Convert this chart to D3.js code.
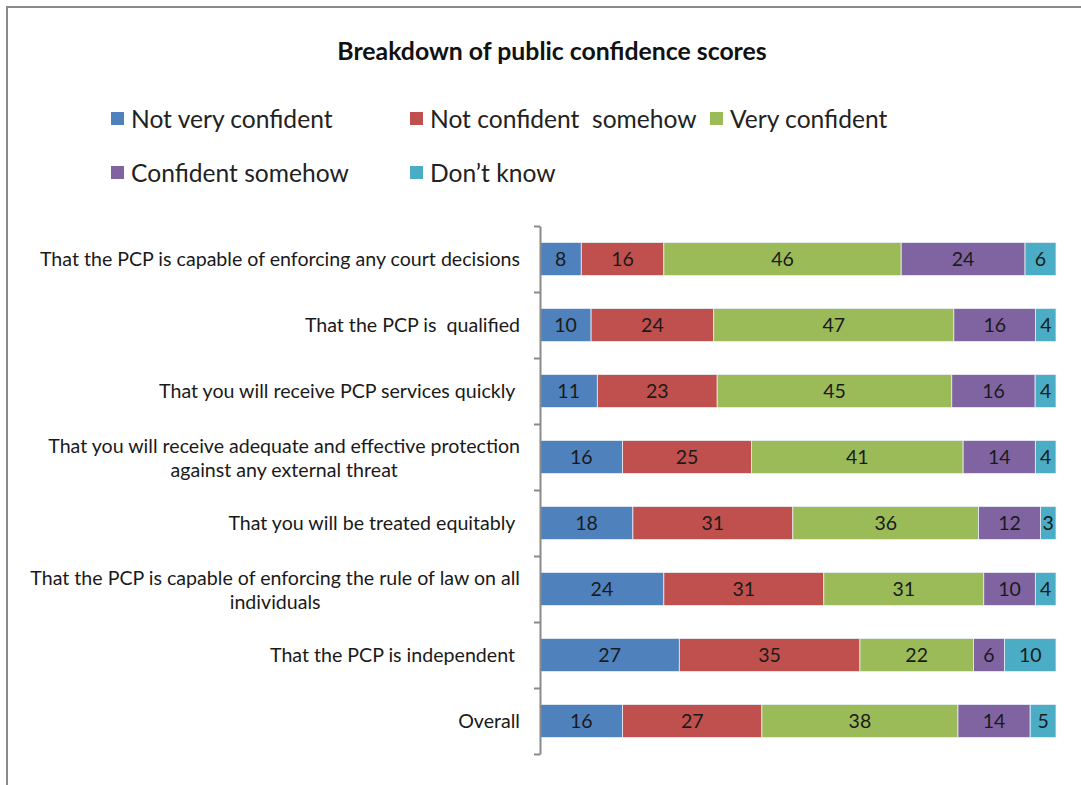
<!DOCTYPE html>
<html>
<head>
<meta charset="utf-8">
<script src="https://cdn.jsdelivr.net/npm/d3@7"></script>
<style>
  html, body { margin: 0; padding: 0; background: #fff; }
  svg { display: block; font-family: Lato, "Noto Sans", sans-serif; }
</style>
</head>
<body>
<svg id="chart" width="1081" height="785"></svg>
<script>
// Survey items (a second entry is drawn as a second line)
const categories = [
  ["That the PCP is capable of enforcing any court decisions"],
  ["That the PCP is  qualified"],
  ["That you will receive PCP services quickly "],
  ["That you will receive adequate and effective protection", "against any external threat"],
  ["That you will be treated equitably "],
  ["That the PCP is capable of enforcing the rule of law on all", "individuals"],
  ["That the PCP is independent "],
  ["Overall"]
];
const seriesNames = ["Not very confident", "Not confident  somehow", "Very confident", "Confident somehow", "Don\u2019t know"];
const notVeryConfident = [8, 10, 11, 16, 18, 24, 27, 16];
const notConfidentSomehow = [16, 24, 23, 25, 31, 31, 35, 27];
const veryConfident = [46, 47, 45, 41, 36, 31, 22, 38];
const confidentSomehow = [24, 16, 16, 14, 12, 10, 6, 14];
const dontKnow = [6, 4, 4, 4, 3, 4, 10, 5];
const colors = ["#4F81BD", "#C0504D", "#9BBB59", "#8064A2", "#4BACC6"];

const seriesValues = [notVeryConfident, notConfidentSomehow, veryConfident, confidentSomehow, dontKnow];
const rows = categories.map((c, i) => {
  const r = { key: i };
  seriesNames.forEach((s, j) => { r[s] = seriesValues[j][i]; });
  return r;
});

const svg = d3.select("#chart");

// Chart frame
svg.append("rect")
  .attr("x", 7).attr("y", 7)
  .attr("width", 1200).attr("height", 900)
  .attr("fill", "none").attr("stroke", "#8a8a8a").attr("stroke-width", 2);

// Title
svg.append("text")
  .attr("x", 552).attr("y", 60)
  .attr("text-anchor", "middle")
  .attr("font-size", 24.8).attr("font-weight", "bold").attr("fill", "#111")
  .text("Breakdown of public confidence scores");

// Legend
const legendPos = [[111, 0], [410, 0], [710, 0], [111, 1], [410, 1]];
const legend = svg.append("g");
seriesNames.forEach((s, j) => {
  const [lx, row] = legendPos[j];
  const ly = 128 + row * 54;
  legend.append("rect")
    .attr("x", lx).attr("y", ly - 16)
    .attr("width", 13).attr("height", 13)
    .attr("fill", colors[j]);
  legend.append("text")
    .attr("x", lx + 20).attr("y", ly)
    .attr("font-size", 24.6).attr("fill", "#222")
    .style("white-space", "pre")
    .text(s);
});

// Scales
const x = d3.scaleLinear().domain([0, 1]).range([540, 1056]);
const y = d3.scaleBand()
  .domain(categories.map((c, i) => i))
  .range([226, 754])
  .paddingInner(0.5).paddingOuter(0.25);

const stack = d3.stack().keys(seriesNames).offset(d3.stackOffsetExpand);
const stacked = stack(rows);

// Bars
const layers = svg.append("g").selectAll("g")
  .data(stacked).join("g")
  .attr("fill", (d, j) => colors[j]);

layers.selectAll("rect")
  .data(d => d).join("rect")
  .attr("x", d => x(d[0]))
  .attr("y", d => y(d.data.key))
  .attr("width", d => x(d[1]) - x(d[0]))
  .attr("height", y.bandwidth())
  .attr("stroke", "#e8eef5").attr("stroke-width", 0.8);

// Value labels
const labels = svg.append("g");
stacked.forEach(layer => {
  layer.forEach(d => {
    labels.append("text")
      .attr("x", (x(d[0]) + x(d[1])) / 2)
      .attr("y", y(d.data.key) + y.bandwidth() / 2 + 7)
      .attr("text-anchor", "middle")
      .attr("font-size", 19.5).attr("fill", "#1a1a1a")
      .text(d.data[layer.key]);
  });
});

// Category axis with ticks between categories
const edge = d3.scaleLinear().domain([0, categories.length]).range([226, 754]);
const axis = svg.append("g")
  .attr("transform", "translate(540,0)")
  .call(d3.axisLeft(edge).tickValues(d3.range(categories.length + 1)).tickFormat("").tickSize(6).tickSizeOuter(0));
axis.selectAll("path, line").attr("stroke", "#8a8a8a").attr("stroke-width", 2);

// Category labels
const catLabels = svg.append("g");
categories.forEach((lines, i) => {
  const cy = y(i) + y.bandwidth() / 2;
  const t = catLabels.append("text")
    .attr("font-size", 19.6).attr("fill", "#1a1a1a")
    .style("white-space", "pre");
  if (lines.length === 1) {
    t.attr("x", 520).attr("y", cy + 7).attr("text-anchor", "end").text(lines[0]);
  } else {
    // two lines centred on each other, block right-aligned
    lines.forEach((ln, k) => {
      t.append("tspan").attr("y", cy - 4 + k * 24).text(ln);
    });
    const widths = t.selectAll("tspan").nodes().map(n => n.getComputedTextLength());
    const centre = 520 - d3.max(widths) / 2;
    t.attr("text-anchor", "middle");
    t.selectAll("tspan").attr("x", centre);
  }
});
</script>
</body>
</html>
